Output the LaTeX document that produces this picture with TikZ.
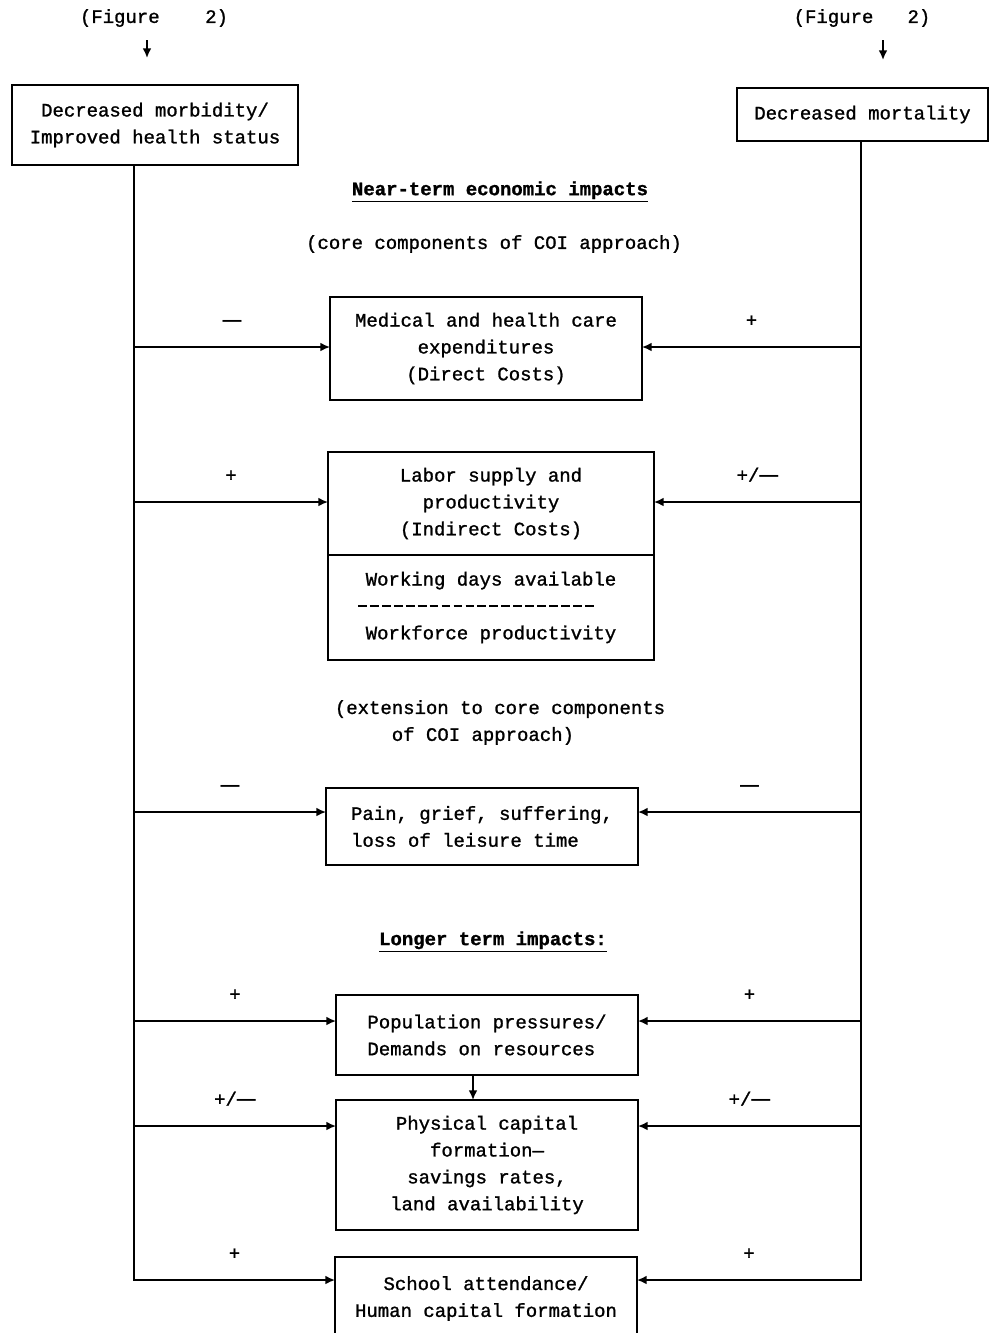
\documentclass[tikz,border=0pt]{standalone}
\usepackage{fontspec}
\setmonofont{Liberation Mono}[FakeBold=1.2]
\newfontfamily\dashfont{Liberation Sans}
\usepackage{tikz}
\usetikzlibrary{arrows.meta}
\newcommand{\mdash}{{\dashfont\bfseries —}}
\newcommand{\pmdash}{+/\mdash}

\begin{document}
\begin{tikzpicture}[x=0.02cm, y=-0.02cm,
  every node/.style={font=\ttfamily\fontsize{10.8}{15.3}\selectfont},
  head/.style={font=\ttfamily\bfseries\fontsize{10.8}{15.3}\selectfont},
  box/.style={draw, line width=1pt, align=center, inner sep=0pt, outer sep=0pt},
  line/.style={line width=1pt},
  arr/.style={line, -{Latex[length=5.5pt,width=5pt]}},
  sign/.style={midway, yshift=14.7pt, text height=1.6ex, text depth=.2ex, inner sep=0pt}]
\useasboundingbox (0,0) rectangle (990,1333);
\node (figL) at (154,18) {(Figure~~~~2)};
\node (figR) at (862,18) {(Figure~~~2)};
\coordinate (figLend) at (147,58);
\coordinate (figRend) at (883,60);
\draw[arr, shorten <=4pt] (figL.south -| figLend) -- (figLend);
\draw[arr, shorten <=4pt] (figR.south -| figRend) -- (figRend);
\node[box, minimum width=5.72cm, minimum height=1.6cm] (morb) at (155,125)
  {Decreased morbidity/\\Improved health status};
\node[box, minimum width=5.02cm, minimum height=1.06cm] (mort) at (862.5,114.5)
  {Decreased mortality};
\node[head] (near) at (500,192) {\underline{Near-term economic impacts}};
\node (core) at (494,244) {(core components of COI approach)};
\node[box, minimum width=6.24cm, minimum height=2.06cm] (med) at (486,348.5)
  {Medical and health care\\expenditures\\(Direct Costs)};
\node[box, minimum width=6.52cm, minimum height=2.06cm] (labA) at (491,503.5)
  {Labor supply and\\productivity\\(Indirect Costs)};
\node[box, minimum width=6.52cm, minimum height=2.1cm, anchor=north] (labB) at (labA.south)
  {Working days available\\[15.3pt]Workforce productivity};
\draw[line width=.9pt, dash pattern=on 5pt off 1.8pt] (358,606) -- (596,606);
\node[align=left] (ext) at (500,722.5) {(extension to core components\\\hspace*{3em}of COI approach)};
\node[box, align=left, minimum width=6.24cm, minimum height=1.54cm] (pain) at (482,826.5)
  {Pain, grief, suffering,\\loss of leisure time};
\node[head] (longer) at (493,942) {\underline{Longer term impacts:}};
\node[box, align=left, minimum width=6.04cm, minimum height=1.6cm] (pop) at (487,1035)
  {Population pressures/\\Demands on resources};
\node[box, minimum width=6.04cm, minimum height=2.6cm] (phys) at (487,1165)
  {Physical capital\\formation—\\savings rates,\\land availability};
\node[box, minimum width=6.04cm, minimum height=1.66cm] (school) at (486,1298.5)
  {School attendance/\\Human capital formation};
\coordinate (trunkL) at (134,1280);
\coordinate (trunkR) at (861,1280);
\coordinate (pp) at (473,0);
\foreach \b/\y/\l/\r in {med/347/\mdash/+, labA/502/+/\pmdash, pain/812/\mdash/\mdash,
  pop/1021/+/+, phys/1126/\pmdash/\pmdash}
{
  \coordinate (lv) at (0,\y);
  \draw[arr] (trunkL |- lv) -- node[sign] {\l} (\b.west |- lv);
  \draw[arr] (trunkR |- lv) -- node[sign] {\r} (\b.east |- lv);
}
\draw[arr] (morb.south -| trunkL) -- (trunkL) -- node[sign] {+} (school.west |- trunkL);
\draw[arr] (mort.south -| trunkR) -- (trunkR) -- node[sign] {+} (school.east |- trunkR);
\draw[arr] (pop.south -| pp) -- (phys.north -| pp);
\end{tikzpicture}
\end{document}
